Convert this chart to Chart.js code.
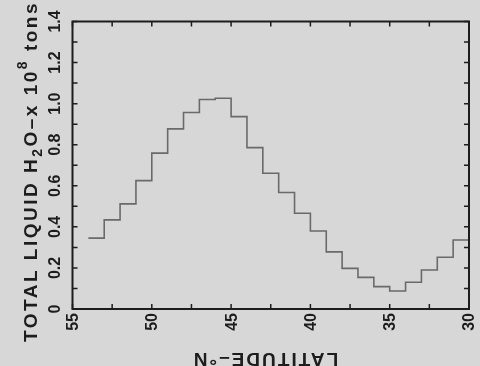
<!DOCTYPE html>
<html>
<head>
<meta charset="utf-8">
<script src="https://cdn.jsdelivr.net/npm/chart.js@4.4.1/dist/chart.umd.min.js"></script>
<style>
  html, body { margin: 0; padding: 0; background: #d7d7d7; }
  canvas { display: block; }
</style>
</head>
<body>
<canvas id="chart" width="480" height="366"></canvas>
<script>
// Latitude bin edges (deg N), one degree wide, north to south
const binEdges = [54, 53, 52, 51, 50, 49, 48, 47, 46, 45, 44, 43, 42, 41, 40, 39, 38, 37, 36, 35, 34, 33, 32, 31, 30];
// Total liquid water per bin (x 10^8 tons)
const liquidWater = [0.345, 0.434, 0.512, 0.625, 0.759, 0.877, 0.957, 1.020, 1.026, 0.937, 0.786, 0.661,
                     0.567, 0.466, 0.380, 0.278, 0.198, 0.154, 0.109, 0.088, 0.130, 0.190, 0.252, 0.336];

// Axis ticks and labels
const latTicks = [55, 52.5, 50, 47.5, 45, 42.5, 40, 37.5, 35, 32.5, 30];
const latLabels = ["55", "50", "45", "40", "35", "30"];
const waterTicks = [0, 0.1, 0.2, 0.3, 0.4, 0.5, 0.6, 0.7, 0.8, 0.9, 1.0, 1.1, 1.2, 1.3, 1.4];
const waterLabels = ["0", "0.2", "0.4", "0.6", "0.8", "1.0", "1.2", "1.4"];

const INK = "#1d1d1d";

// step points: each bin value starts at its northern edge, last one held to 30N
const points = liquidWater.map((v, i) => ({ x: binEdges[i], y: v }));
points.push({ x: binEdges[binEdges.length - 1], y: liquidWater[liquidWater.length - 1] });

// Frame, inward ticks, rotated labels and titles
const framePlugin = {
    id: "frame",
    afterDatasetsDraw(chart) {
        const { ctx, chartArea: a, scales: { x, y } } = chart;
        ctx.save();
        ctx.strokeStyle = INK;
        ctx.lineWidth = 2;
        ctx.strokeRect(a.left, a.top, a.right - a.left, a.bottom - a.top);

        ctx.lineWidth = 1.5;
        ctx.beginPath();
        latTicks.forEach(v => {
            const px = x.getPixelForValue(v);
            ctx.moveTo(px, a.bottom); ctx.lineTo(px, a.bottom - 5);
            ctx.moveTo(px, a.top); ctx.lineTo(px, a.top + 5);
        });
        waterTicks.forEach(v => {
            const py = y.getPixelForValue(v);
            ctx.moveTo(a.left, py); ctx.lineTo(a.left + 5, py);
            ctx.moveTo(a.right, py); ctx.lineTo(a.right - 5, py);
        });
        ctx.stroke();

        ctx.fillStyle = INK;
        ctx.font = "bold 16px 'Liberation Sans'";
        ctx.textBaseline = "middle";

        // y tick labels, reading bottom to top
        waterLabels.forEach(label => {
            const py = y.getPixelForValue(parseFloat(label));
            ctx.save();
            ctx.translate(56, py);
            ctx.rotate(-Math.PI / 2);
            ctx.textAlign = "center";
            ctx.fillText(label, 0, 0);
            ctx.restore();
        });

        // x tick labels, reading bottom to top, hanging under the axis
        latLabels.forEach(label => {
            const px = x.getPixelForValue(parseFloat(label));
            ctx.save();
            ctx.translate(px + 1, a.bottom + 4);
            ctx.rotate(-Math.PI / 2);
            ctx.textAlign = "right";
            ctx.fillText(label, 0, 0);
            ctx.restore();
        });

        // y title with subscript and superscript
        const pieces = [
            { t: "TOTAL LIQUID H", size: 19, dy: 0 },
            { t: "2", size: 14, dy: 5 },
            { t: "O\u2013x 10", size: 19, dy: 0 },
            { t: "8", size: 14, dy: -10 },
            { t: " tons", size: 19, dy: 0 }
        ];
        ctx.save();
        ctx.translate(37, 342);
        ctx.rotate(-Math.PI / 2);
        ctx.textAlign = "left";
        ctx.textBaseline = "alphabetic";
        ctx.letterSpacing = "2.5px";
        let cx = 0;
        pieces.forEach(p => {
            ctx.font = "bold " + p.size + "px 'Liberation Sans'";
            ctx.fillText(p.t, cx, p.dy);
            cx += ctx.measureText(p.t).width;
        });
        ctx.restore();

        // x title, printed upside down
        ctx.save();
        ctx.translate(265, 353);
        ctx.rotate(Math.PI);
        ctx.textAlign = "center";
        ctx.textBaseline = "alphabetic";
        ctx.letterSpacing = "2px";
        ctx.font = "bold 19px 'Liberation Sans'";
        ctx.fillText("LATITUDE\u2013\u00b0N", 0, 0);
        ctx.restore();

        ctx.restore();
    }
};

const bgPlugin = {
    id: "bg",
    beforeDraw(chart) {
        const { ctx, width, height } = chart;
        ctx.save();
        ctx.fillStyle = "#d7d7d7";
        ctx.fillRect(0, 0, width, height);
        ctx.restore();
    }
};

new Chart(document.getElementById("chart"), {
    type: "line",
    data: {
        datasets: [{
            data: points,
            stepped: "before",
            borderColor: "#6a6a6a",
            borderWidth: 1.6,
            pointRadius: 0,
            fill: false
        }]
    },
    options: {
        responsive: false,
        animation: false,
        layout: { padding: { left: 72.5, right: 11, top: 21.5, bottom: 57 } },
        plugins: { legend: { display: false }, tooltip: { enabled: false } },
        scales: {
            x: { type: "linear", min: 30, max: 55, reverse: true, display: false },
            y: { type: "linear", min: 0, max: 1.4, display: false }
        }
    },
    plugins: [bgPlugin, framePlugin]
});
</script>
</body>
</html>
